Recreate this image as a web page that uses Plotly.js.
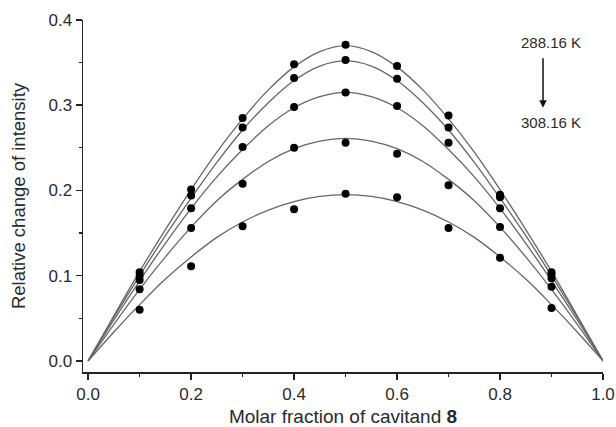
<!DOCTYPE html>
<html>
<head>
<meta charset="utf-8">
<script src="https://cdn.plot.ly/plotly-3.0.1.min.js"></script>
<style>html,body{margin:0;padding:0;background:#fff}#chart{width:616px;height:427px}</style>
</head>
<body>
<div id="chart"></div>
<script>
// Measured points (molar fraction vs relative change of intensity)
const xPoints = [0.1, 0.2, 0.3, 0.4, 0.5, 0.6, 0.7, 0.8, 0.9];
const pts288 = [0.104, 0.201, 0.285, 0.348, 0.371, 0.346, 0.288, 0.195, 0.104];
const pts293 = [0.100, 0.194, 0.274, 0.332, 0.353, 0.331, 0.274, 0.192, 0.101];
const pts298 = [0.095, 0.179, 0.251, 0.298, 0.315, 0.299, 0.256, 0.179, 0.097];
const pts303 = [0.084, 0.156, 0.208, 0.250, 0.256, 0.243, 0.206, 0.157, 0.087];
const pts308 = [0.060, 0.111, 0.158, 0.178, 0.196, 0.192, 0.156, 0.121, 0.062];

// Fitted curves
const xCurve = [0, 0.05, 0.1, 0.15, 0.2, 0.25, 0.3, 0.35, 0.4, 0.45, 0.5, 0.55, 0.6, 0.65, 0.7, 0.75, 0.8, 0.85, 0.9, 0.95, 1.0];
const fit288 = [0, 0.053, 0.105, 0.154, 0.201, 0.245, 0.284, 0.318, 0.345, 0.363, 0.370, 0.363, 0.345, 0.318, 0.284, 0.245, 0.201, 0.154, 0.105, 0.053, 0];
const fit293 = [0, 0.051, 0.100, 0.147, 0.191, 0.233, 0.271, 0.303, 0.329, 0.346, 0.352, 0.346, 0.329, 0.303, 0.271, 0.233, 0.191, 0.147, 0.100, 0.051, 0];
const fit298 = [0, 0.048, 0.094, 0.138, 0.179, 0.216, 0.248, 0.276, 0.297, 0.310, 0.315, 0.310, 0.297, 0.276, 0.248, 0.216, 0.179, 0.138, 0.094, 0.048, 0];
const fit303 = [0, 0.043, 0.084, 0.122, 0.157, 0.188, 0.213, 0.234, 0.249, 0.258, 0.261, 0.258, 0.249, 0.234, 0.213, 0.188, 0.157, 0.122, 0.084, 0.043, 0];
const fit308 = [0, 0.034, 0.066, 0.096, 0.122, 0.145, 0.163, 0.177, 0.187, 0.193, 0.195, 0.193, 0.187, 0.177, 0.163, 0.145, 0.122, 0.096, 0.066, 0.034, 0];

const xTicks = [0, 0.2, 0.4, 0.6, 0.8, 1.0];
const yTicks = [0, 0.1, 0.2, 0.3, 0.4];
const tempTop = "288.16 K";
const tempBottom = "308.16 K";

const fits = [fit288, fit293, fit298, fit303, fit308];
const pts = [pts288, pts293, pts298, pts303, pts308];
const traces = [];
fits.forEach(f => traces.push({
  x: xCurve, y: f, type: 'scatter', mode: 'lines',
  line: {color: '#666', width: 1.3, shape: 'spline', smoothing: 1},
  hoverinfo: 'skip', showlegend: false, cliponaxis: false
}));
pts.forEach(p => traces.push({
  x: xPoints, y: p, type: 'scatter', mode: 'markers',
  marker: {color: '#000', size: 8, symbol: 'circle'},
  showlegend: false, cliponaxis: false
}));

const font = {family: 'Arial, "Liberation Sans", sans-serif', color: '#2a2a2a'};
const layout = {
  width: 616, height: 427,
  margin: {l: 83, r: 13, t: 20, b: 55},
  paper_bgcolor: '#fff', plot_bgcolor: '#fff',
  font: Object.assign({size: 17}, font),
  showlegend: false,
  xaxis: {
    range: [-0.01, 1.0], tickvals: xTicks, tickformat: '.1f',
    showgrid: false, zeroline: false, showline: true, linecolor: '#222', linewidth: 1.5,
    ticks: 'outside', ticklen: 6, tickwidth: 1.5, tickcolor: '#222',
    minor: {dtick: 0.1, tick0: 0, ticks: 'outside', ticklen: 3, tickwidth: 1.2, tickcolor: '#222', showgrid: false},
    tickfont: Object.assign({size: 17}, font),
    title: {text: 'Molar fraction of cavitand <b>8</b>', font: Object.assign({size: 19}, font), standoff: 9}
  },
  yaxis: {
    range: [-0.013, 0.4], tickvals: yTicks, tickformat: '.1f',
    showgrid: false, zeroline: false, showline: true, linecolor: '#222', linewidth: 1.5,
    ticks: 'outside', ticklen: 6, tickwidth: 1.5, tickcolor: '#222',
    minor: {dtick: 0.05, tick0: 0, ticks: 'outside', ticklen: 3, tickwidth: 1.2, tickcolor: '#222', showgrid: false},
    tickfont: Object.assign({size: 17}, font),
    title: {text: 'Relative change of intensity', font: Object.assign({size: 18.5}, font), standoff: 18}
  },
  annotations: [
    {x: 0.899, y: 0.374, xref: 'x', yref: 'y', text: tempTop, showarrow: false, font: Object.assign({size: 15}, font)},
    {x: 0.899, y: 0.280, xref: 'x', yref: 'y', text: tempBottom, showarrow: false, font: Object.assign({size: 15}, font)},
    {x: 0.8835, y: 0.297, xref: 'x', yref: 'y', axref: 'x', ayref: 'y', ax: 0.8835, ay: 0.357,
     text: '', showarrow: true, arrowhead: 2, arrowsize: 1, arrowwidth: 1.5, arrowcolor: '#111'}
  ]
};
Plotly.newPlot('chart', traces, layout, {staticPlot: true, displayModeBar: false});
</script>
</body>
</html>
